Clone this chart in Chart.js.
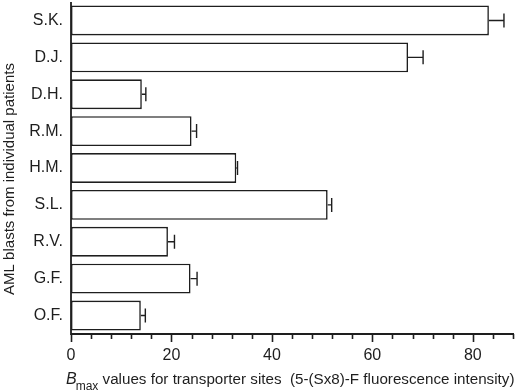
<!DOCTYPE html>
<html>
<head>
<meta charset="utf-8">
<script src="https://cdn.jsdelivr.net/npm/chart.js@4/dist/chart.umd.min.js"></script>
<style>
html,body{margin:0;padding:0;background:#fff;}
#wrap{width:520px;height:392px;position:relative;}
</style>
</head>
<body>
<div id="wrap"><canvas id="c" width="520" height="392"></canvas></div>
<script>
const patients = ["S.K.", "D.J.", "D.H.", "R.M.", "H.M.", "S.L.", "R.V.", "G.F.", "O.F."];
const bmaxValues = [83.2, 67.1, 14.1, 24.0, 32.9, 51.1, 19.3, 23.8, 13.9];
const bmaxErrors = [3.0, 3.0, 0.8, 1.0, 0.25, 0.8, 1.3, 1.3, 0.9];
const majorTicks = [0, 20, 40, 60, 80];
const minorStep = 4;
const axisMax = 88;
const yTitle = "AML blasts from individual patients";
const xTitleMain = "B";
const xTitleSub = "max";
const xTitleRest = " values for transporter sites  (5-(Sx8)-F fluorescence intensity)";

const ink = "#1e1e1e";
const FONT = "'Liberation Sans', Arial, sans-serif";

const decor = {
  id: 'decor',
  afterDatasetsDraw(chart) {
    const ctx = chart.ctx;
    const xs = chart.scales.x;
    const meta = chart.getDatasetMeta(0);
    ctx.save();
    // error bars
    ctx.strokeStyle = ink;
    ctx.lineWidth = 1.4;
    meta.data.forEach((bar, i) => {
      const x0 = xs.getPixelForValue(bmaxValues[i]);
      const x1 = xs.getPixelForValue(bmaxValues[i] + bmaxErrors[i]);
      const y = bar.y;
      ctx.beginPath();
      ctx.moveTo(x0, y); ctx.lineTo(x1, y);
      ctx.moveTo(x1, y - 7); ctx.lineTo(x1, y + 7);
      ctx.stroke();
    });
    // tick marks
    const base = chart.chartArea.bottom;
    ctx.lineWidth = 1.6;
    for (let v = 0; v <= axisMax + 1e-6; v += minorStep) {
      const px = Math.round(xs.getPixelForValue(v)) + 0.5;
      const major = majorTicks.includes(v);
      ctx.beginPath();
      ctx.moveTo(px, base);
      ctx.lineTo(px, base + (major ? 8 : 5));
      ctx.stroke();
    }
    // axes lines
    ctx.lineWidth = 1.8;
    ctx.beginPath();
    ctx.moveTo(chart.chartArea.left, chart.chartArea.top);
    ctx.lineTo(chart.chartArea.left, base);
    ctx.lineTo(xs.getPixelForValue(axisMax) + 1, base);
    ctx.stroke();

    // y title
    ctx.fillStyle = ink;
    ctx.font = "15px " + FONT;
    ctx.textAlign = 'center';
    ctx.textBaseline = 'middle';
    ctx.translate(10, 179);
    ctx.rotate(-Math.PI / 2);
    ctx.fillText(yTitle, 0, 0);
    ctx.setTransform(1, 0, 0, 1, 0, 0);

    // x title with italic B and subscript
    let x = chart.chartArea.left - 5;
    const yb = 384;
    ctx.textAlign = 'left';
    ctx.textBaseline = 'alphabetic';
    ctx.font = "italic 16px " + FONT;
    ctx.fillText(xTitleMain, x, yb);
    x += ctx.measureText(xTitleMain).width - 1;
    ctx.font = "12px " + FONT;
    ctx.fillText(xTitleSub, x, yb + 6);
    x += ctx.measureText(xTitleSub).width;
    ctx.font = "15.2px " + FONT;
    ctx.fillText(xTitleRest, x, yb);
    ctx.restore();
  }
};

new Chart(document.getElementById('c'), {
  type: 'bar',
  data: {
    labels: patients,
    datasets: [{
      data: bmaxValues,
      backgroundColor: '#ffffff',
      borderColor: ink,
      borderWidth: 1.6,
      borderSkipped: false,
      barPercentage: 0.81,
      categoryPercentage: 1.0
    }]
  },
  options: {
    indexAxis: 'y',
    responsive: false,
    animation: false,
    devicePixelRatio: 1,
    layout: { padding: { top: 2, right: 7, left: 0, bottom: 0 } },
    plugins: { legend: { display: false }, tooltip: { enabled: false } },
    scales: {
      x: {
        min: 0, max: axisMax,
        grid: { display: false, drawTicks: false },
        border: { display: false },
        afterFit(s) { s.height = 58; },
        ticks: {
          stepSize: 20, includeBounds: false, padding: 12,
          color: ink, font: { family: FONT, size: 16 }
        }
      },
      y: {
        grid: { display: false, drawTicks: false },
        border: { display: false },
        afterFit(s) { s.width = 71; s.paddingTop = 0; s.paddingBottom = 0; },
        ticks: { padding: 8, color: ink, font: { family: FONT, size: 16 } }
      }
    }
  },
  plugins: [decor]
});
</script>
</body>
</html>
